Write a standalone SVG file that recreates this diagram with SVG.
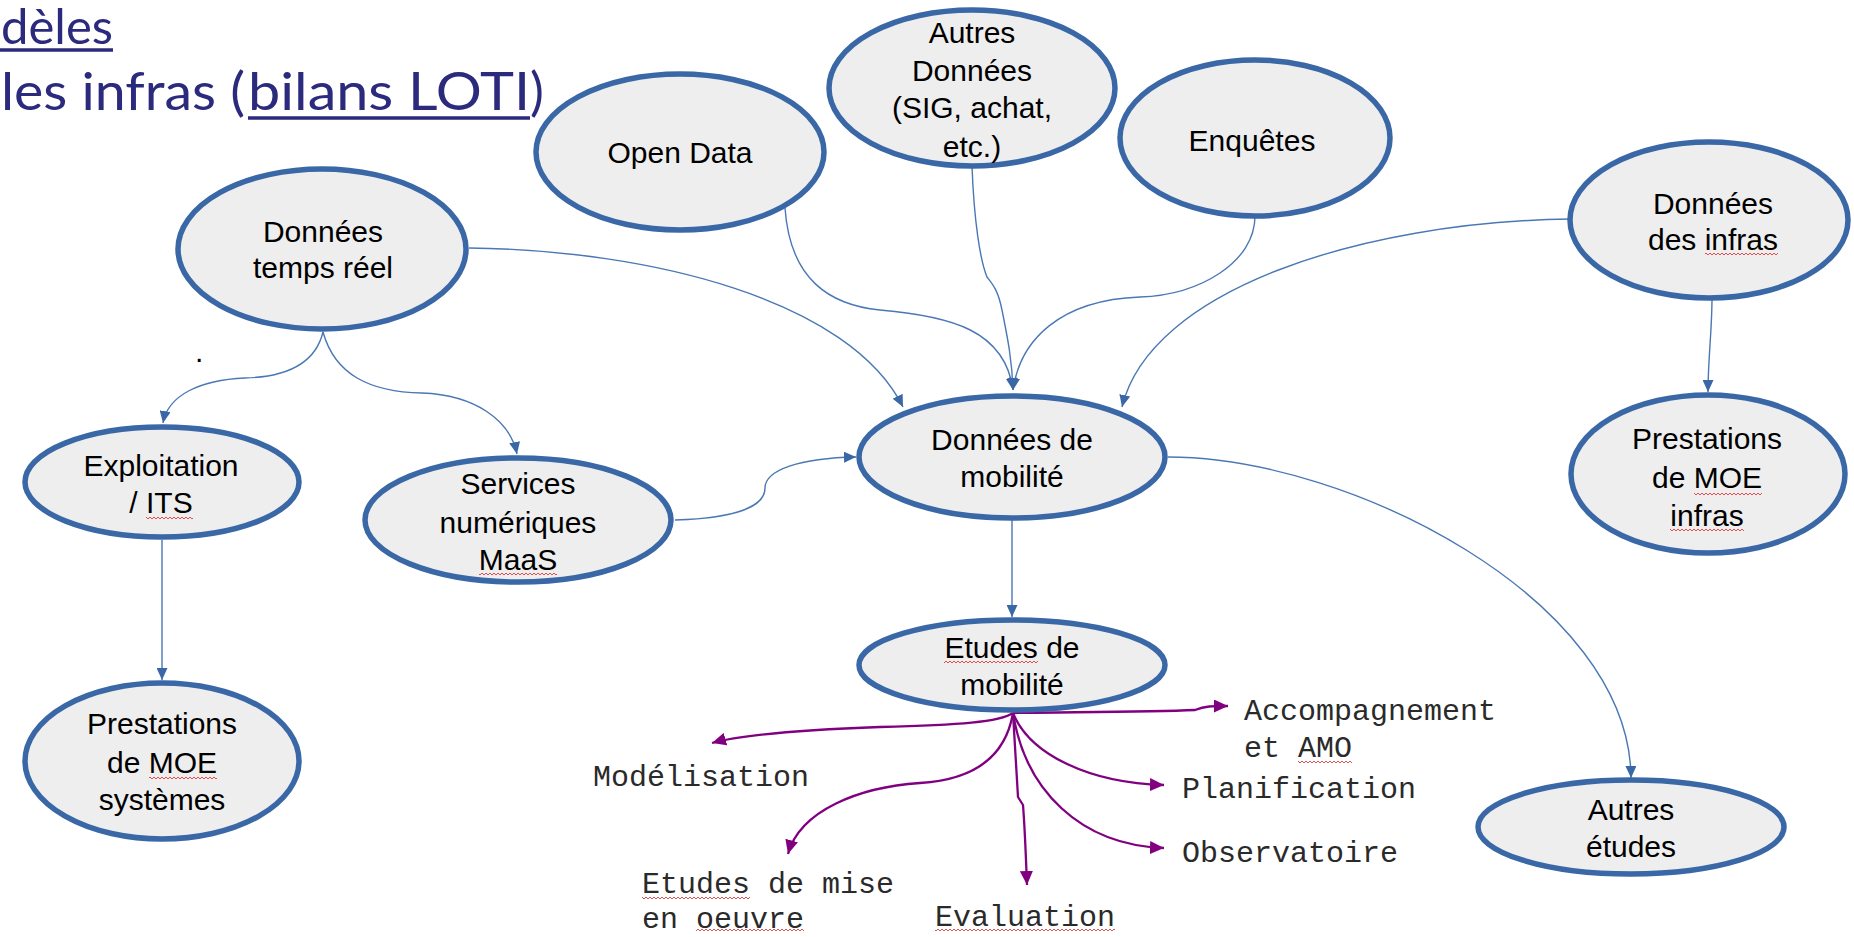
<svg xmlns="http://www.w3.org/2000/svg" width="1854" height="937" viewBox="0 0 1854 937">
<style>
.node{fill:#eeeeee;stroke:#3a67a6;stroke-width:5.5}
.lbl{font-family:"Liberation Sans",Arial,sans-serif;font-size:30px;fill:#000;text-anchor:middle}
.mono{font-family:"Liberation Mono","Courier New",monospace;font-size:30px;fill:#2a2a2a}
.title{font-family:Lato,"Open Sans",sans-serif;font-size:52px;font-weight:400;fill:#2b2a7c}
.ul{stroke:#2b2a7c;stroke-width:3.5}
.blue{fill:none;stroke:#4a78b5;stroke-width:1.4;marker-end:url(#ab)}
.purple{fill:none;stroke:#800080;stroke-width:2.3;marker-end:url(#ap)}
.sq{fill:url(#wave)}
</style>
<defs>
<marker id="ab" markerUnits="userSpaceOnUse" markerWidth="13" markerHeight="11" refX="12" refY="5.5" orient="auto">
<path d="M0,0 L12,5.5 L0,11 z" fill="#3a67a6"/>
</marker>
<marker id="ap" markerUnits="userSpaceOnUse" markerWidth="15" markerHeight="13" refX="14" refY="6.5" orient="auto">
<path d="M0,0 L14,6.5 L0,13 z" fill="#800080"/>
</marker>
<pattern id="wave" patternUnits="userSpaceOnUse" width="4" height="4">
<path d="M0,3 L2,1 L4,3" fill="none" stroke="#e03a3a" stroke-width="0.9"/>
</pattern>
</defs>
<rect width="1854" height="937" fill="#ffffff"/>

<g id="title">
<text class="title" x="1" y="44" font-size="48" textLength="112" lengthAdjust="spacingAndGlyphs" style="font-size:48px">dèles</text>
<line class="ul" x1="0" y1="50" x2="113" y2="50"/>
<text class="title" x="1" y="110" textLength="244" lengthAdjust="spacingAndGlyphs">les infras (</text>
<text class="title" x="248" y="110" textLength="282" lengthAdjust="spacingAndGlyphs">bilans LOTI</text>
<text class="title" x="530" y="110">)</text>
<line class="ul" x1="248" y1="118" x2="530" y2="118"/>
<text x="195" y="362" style="font-family:'Liberation Sans',sans-serif;font-size:30px;fill:#000">.</text>
</g>

<g id="connectors">
<path class="blue" d="M469,248 C650,250 850,300 903,407"/>
<path class="blue" d="M785,208 C790,280 830,305 880,310 C950,316 1005,330 1013,390"/>
<path class="blue" d="M972,166 C974,220 980,260 987,277 C993,285 998,290 1002,310 C1008,340 1012,360 1013,390"/>
<path class="blue" d="M1255,216 C1255,262 1200,295 1140,297 C1060,300 1020,340 1013,390"/>
<path class="blue" d="M1570,219 C1360,222 1150,290 1122,407"/>
<path class="blue" d="M1712,298 C1712,330 1708,360 1708,392"/>
<path class="blue" d="M323,332 C315,365 285,377 245,378 C200,380 168,395 163,423"/>
<path class="blue" d="M323,332 C335,375 370,392 422,393 C475,395 510,420 517,454"/>
<path class="blue" d="M162,540 L162,680"/>
<path class="blue" d="M675,520 C740,518 765,505 765,488 C765,470 800,458 856,457"/>
<path class="blue" d="M1012,520 L1012,617"/>
<path class="blue" d="M1168,457 C1350,457 1630,600 1631,778"/>

<path class="purple" d="M1013,713 C1080,712 1150,712 1195,710 C1205,706 1212,706 1228,706"/>
<path class="purple" d="M1013,713 C1000,722 960,725 880,727 C800,730 740,735 712,743"/>
<path class="purple" d="M1013,713 C1005,760 970,780 920,783 C860,787 800,810 788,854"/>
<path class="purple" d="M1013,713 C1015,750 1017,780 1018,797 L1023,805 C1025,830 1026,860 1027,885"/>
<path class="purple" d="M1013,713 C1030,755 1090,783 1164,785"/>
<path class="purple" d="M1013,713 C1025,790 1080,845 1164,848"/>
</g>

<g id="n-donnees-temps-reel">
<ellipse class="node" cx="322" cy="249" rx="144" ry="80"/>
<text class="lbl" x="323" y="242">Données</text>
<text class="lbl" x="323" y="278">temps réel</text>
</g>

<g id="n-open-data">
<ellipse class="node" cx="680" cy="152" rx="144" ry="78"/>
<text class="lbl" x="680" y="163">Open Data</text>
</g>

<g id="n-autres-donnees">
<ellipse class="node" cx="972" cy="88" rx="143" ry="78"/>
<text class="lbl" x="972" y="43">Autres</text>
<text class="lbl" x="972" y="81">Données</text>
<text class="lbl" x="972" y="118">(SIG, achat,</text>
<text class="lbl" x="972" y="157">etc.)</text>
</g>

<g id="n-enquetes">
<ellipse class="node" cx="1255" cy="138" rx="135" ry="78"/>
<text class="lbl" x="1252" y="151">Enquêtes</text>
</g>

<g id="n-donnees-infras">
<ellipse class="node" cx="1709" cy="220" rx="139" ry="78"/>
<text class="lbl" x="1713" y="214">Données</text>
<text class="lbl" x="1713" y="250">des infras</text>
<rect class="sq" x="1705" y="252" width="73" height="4"/>
</g>

<g id="n-prestations-moe-infras">
<ellipse class="node" cx="1708" cy="474" rx="137" ry="79"/>
<text class="lbl" x="1707" y="449">Prestations</text>
<text class="lbl" x="1707" y="488">de MOE</text>
<text class="lbl" x="1707" y="526">infras</text>
<rect class="sq" x="1694" y="492" width="68" height="4"/>
<rect class="sq" x="1670" y="528" width="74" height="4"/>
</g>

<g id="n-exploitation-its">
<ellipse class="node" cx="162" cy="482" rx="137" ry="55"/>
<text class="lbl" x="161" y="476">Exploitation</text>
<text class="lbl" x="161" y="513">/ ITS</text>
<rect class="sq" x="146" y="516" width="47" height="4"/>
</g>

<g id="n-services-numeriques">
<ellipse class="node" cx="518" cy="520" rx="153" ry="62"/>
<text class="lbl" x="518" y="494">Services</text>
<text class="lbl" x="518" y="533">numériques</text>
<text class="lbl" x="518" y="570">MaaS</text>
<rect class="sq" x="479" y="572" width="78" height="4"/>
</g>

<g id="n-donnees-mobilite">
<ellipse class="node" cx="1012" cy="457" rx="153" ry="61"/>
<text class="lbl" x="1012" y="450">Données de</text>
<text class="lbl" x="1012" y="487">mobilité</text>
</g>

<g id="n-prestations-moe-systemes">
<ellipse class="node" cx="162" cy="761" rx="137" ry="78"/>
<text class="lbl" x="162" y="734">Prestations</text>
<text class="lbl" x="162" y="773">de MOE</text>
<text class="lbl" x="162" y="810">systèmes</text>
<rect class="sq" x="149" y="776" width="68" height="4"/>
</g>

<g id="n-etudes-mobilite">
<ellipse class="node" cx="1012" cy="665" rx="153" ry="45"/>
<text class="lbl" x="1012" y="658">Etudes de</text>
<text class="lbl" x="1012" y="695">mobilité</text>
<rect class="sq" x="944" y="660" width="94" height="4"/>
</g>

<g id="n-autres-etudes">
<ellipse class="node" cx="1631" cy="827" rx="153" ry="47"/>
<text class="lbl" x="1631" y="820">Autres</text>
<text class="lbl" x="1631" y="857">études</text>
</g>

<g id="labels">
<text class="mono" x="1244" y="720">Accompagnement</text>
<text class="mono" x="1244" y="757">et AMO</text>
<rect class="sq" x="1298" y="760" width="54" height="4"/>
<text class="mono" x="593" y="786">Modélisation</text>
<text class="mono" x="1182" y="798">Planification</text>
<text class="mono" x="1182" y="862">Observatoire</text>
<text class="mono" x="642" y="893">Etudes de mise</text>
<rect class="sq" x="642" y="896" width="108" height="4"/>
<text class="mono" x="642" y="928">en oeuvre</text>
<rect class="sq" x="696" y="929" width="108" height="4"/>
<text class="mono" x="935" y="926">Evaluation</text>
<rect class="sq" x="935" y="928" width="180" height="4"/>
</g>
</svg>
